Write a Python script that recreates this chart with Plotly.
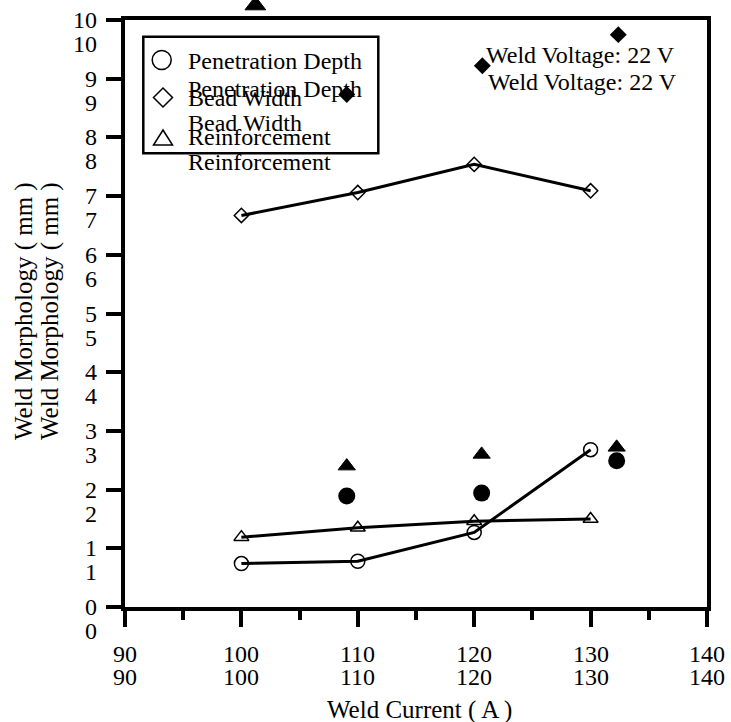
import plotly.graph_objects as go

# ---------------- data ----------------
current = [100, 110, 120, 130]
penetration = [0.74, 0.78, 1.27, 2.68]
bead_width = [6.67, 7.06, 7.54, 7.09]
reinforcement = [1.19, 1.35, 1.46, 1.50]

filled_pen_current = [109.05, 120.64, 132.24]
filled_penetration = [1.89, 1.94, 2.49]
filled_bw_current = [109.05, 120.70, 132.38]
filled_bead_width = [8.73, 9.22, 9.75]
filled_re_current = [101.2, 109.05, 120.64, 132.24]
filled_reinforcement = [10.25, 2.40, 2.60, 2.72]

x_ticks = [90, 100, 110, 120, 130, 140]
y_ticks = [0, 1, 2, 3, 4, 5, 6, 7, 8, 9, 10]
x_title = "Weld Current ( A )"
y_title = "Weld Morphology ( mm )"
legend_names = ["Penetration Depth", "Bead Width", "Reinforcement"]
note = "Weld Voltage: 22 V"

# ---------------- layout helpers ----------------
W, H = 731, 722
L, R, T, B = 125, 24, 20, 115
PW, PH = W - L - R, H - T - B          # main plotting area (pixels)
FULLH = H - B                          # area incl. top strip above frame
FONT = "Liberation Serif, Times New Roman, serif"
FS = 24
Y_MAX = 10
Y2_MAX = Y_MAX * FULLH / PH            # same scale, extends to top of page


def px(x):
    return (x - L) / PW


def py(y):
    return (H - B - y) / FULLH


fig = go.Figure()

line_style = dict(color="black", width=3)
open_marker = dict(color="black", line=dict(color="black", width=1.5))

fig.add_trace(go.Scatter(x=current, y=penetration, mode="lines+markers",
                         line=line_style,
                         marker=dict(symbol="circle-open", size=14, **open_marker)))
fig.add_trace(go.Scatter(x=current, y=bead_width, mode="lines+markers",
                         line=line_style,
                         marker=dict(symbol="diamond-open", size=11, **open_marker)))
fig.add_trace(go.Scatter(x=current, y=reinforcement, mode="lines+markers",
                         line=line_style,
                         marker=dict(symbol="triangle-up-open", size=13, **open_marker)))

fig.add_trace(go.Scatter(x=filled_pen_current, y=filled_penetration, mode="markers",
                         marker=dict(symbol="circle", size=17, color="black", opacity=1)))
fig.add_trace(go.Scatter(x=filled_bw_current, y=filled_bead_width, mode="markers",
                         marker=dict(symbol="diamond", size=13, color="black", opacity=1)))
fig.add_trace(go.Scatter(x=filled_re_current, y=filled_reinforcement, mode="markers",
                         yaxis="y2", cliponaxis=False,
                         marker=dict(symbol="triangle-up", size=[18, 15, 15, 15], color="black",
                                     opacity=1, line=dict(width=1, color="black"))))

axis_common = dict(showline=True, linewidth=3.5, linecolor="black", mirror=True,
                   ticks="outside", tickwidth=3.5, tickcolor="black",
                   showgrid=False, zeroline=False, showticklabels=False)

fig.update_layout(
    xaxis=dict(range=[90, 140], tickvals=x_ticks, ticklen=16, anchor="y",
               minor=dict(ticks="outside", dtick=5, ticklen=9, tickwidth=3.5,
                          tickcolor="black", showgrid=False),
               **axis_common),
    yaxis=dict(range=[0, Y_MAX], tickvals=y_ticks, ticklen=15,
               domain=[0, PH / FULLH], **axis_common),
    yaxis2=dict(range=[0, Y2_MAX], domain=[0, 1], anchor="x", visible=False,
                showgrid=False, zeroline=False),
)

annotations = []
font = dict(family=FONT, size=FS, color="black")
tfont = dict(family=FONT, size=25, color="black")

# y tick labels (doubled)
for v in y_ticks:
    for shift in (0, -24):
        annotations.append(dict(text=str(v), xref="paper", x=0, xshift=-26, xanchor="right",
                                yref="y", y=v, yshift=shift, yanchor="middle",
                                showarrow=False, font=font))
# x tick labels (doubled)
for v in x_ticks:
    for shift in (-47, -70):
        annotations.append(dict(text=str(v), xref="x", x=v, xanchor="center",
                                yref="paper", y=0, yshift=shift, yanchor="middle",
                                showarrow=False, font=font))

# axis titles
annotations.append(dict(text=x_title, xref="paper", x=px(419), yref="paper", y=py(710),
                        xanchor="center", yanchor="middle", showarrow=False, font=tfont))
for cx in (24, 50):
    annotations.append(dict(text=y_title, xref="paper", x=px(cx), yref="paper", y=py(311),
                            xanchor="center", yanchor="middle", textangle=-90,
                            showarrow=False, font=tfont))

# legend texts (doubled)
leg_rows = [(61, 89), (98, 123), (137, 162)]
for name, (y1, y2) in zip(legend_names, leg_rows):
    for yy in (y1, y2):
        annotations.append(dict(text=name, xref="paper", x=px(186), xanchor="left",
                                yref="paper", y=py(yy), yanchor="middle",
                                showarrow=False, font=font))

# voltage note (doubled)
for xx, yy in ((484, 55), (486, 82)):
    annotations.append(dict(text=note, xref="paper", x=px(xx), xanchor="left",
                            yref="paper", y=py(yy), yanchor="middle",
                            showarrow=False, font=font))

# legend box and symbols
NOFILL = "rgba(0,0,0,0)"
shapes = [dict(type="rect", xref="paper", yref="paper",
               x0=px(143.3), x1=px(378.3), y0=py(153.3), y1=py(36.7),
               line=dict(color="black", width=2.5), fillcolor=NOFILL)]
cx, cy, r = 161.7, 60, 9.5
shapes.append(dict(type="circle", xref="paper", yref="paper",
                   x0=px(cx - r), x1=px(cx + r), y0=py(cy + r), y1=py(cy - r),
                   line=dict(color="black", width=1.5), fillcolor=NOFILL))
cx, cy, r = 163, 97.5, 9.5
shapes.append(dict(type="path", xref="paper", yref="paper",
                   path=f"M{px(cx - r)},{py(cy)} L{px(cx)},{py(cy - r)} L{px(cx + r)},{py(cy)} L{px(cx)},{py(cy + r)} Z",
                   line=dict(color="black", width=1.5), fillcolor=NOFILL))
cx, cy = 163, 137.5
shapes.append(dict(type="path", xref="paper", yref="paper",
                   path=f"M{px(cx - 9.5)},{py(cy + 7.5)} L{px(cx + 9.5)},{py(cy + 7.5)} L{px(cx)},{py(cy - 7.5)} Z",
                   line=dict(color="black", width=1.5), fillcolor=NOFILL))

fig.update_layout(width=W, height=H, margin=dict(l=L, r=R, t=0, b=B),
                  plot_bgcolor="rgba(0,0,0,0)", paper_bgcolor="white", showlegend=False,
                  annotations=annotations, shapes=shapes, font=font)

fig.write_html("out.html", config={"displayModeBar": False},
               post_script="document.body.style.margin='0';document.body.style.overflow='hidden';")
